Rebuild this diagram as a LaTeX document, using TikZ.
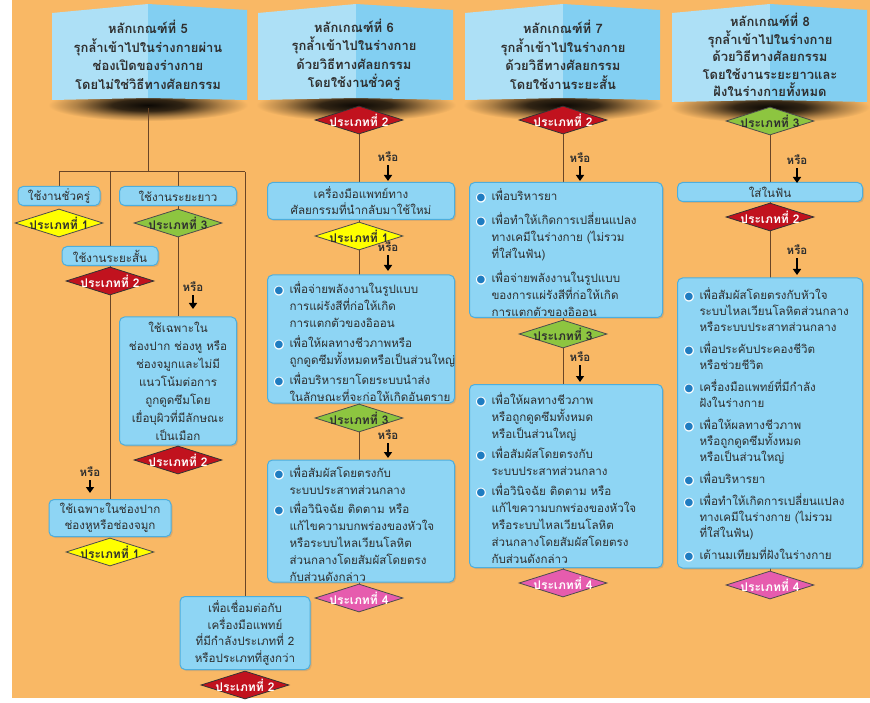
\documentclass[tikz,border=0pt]{standalone}
\usepackage{fontspec}
\setmainfont{Loma}[Script=Thai]
\newfontfamily\symfont{DejaVu Sans}
\usetikzlibrary{shapes.geometric,arrows.meta,shadows}
\definecolor{bgorange}{HTML}{F9B865}
\definecolor{boxfill}{HTML}{8ED5F4}
\definecolor{boxdraw}{HTML}{4DAEDD}
\definecolor{hdrL}{HTML}{ADE0F6}
\definecolor{hdrR}{HTML}{82CFF2}
\definecolor{txt}{HTML}{2F2F2F}
\definecolor{wire}{HTML}{6A4526}
\definecolor{dYel}{HTML}{FFFF00}
\definecolor{dRed}{HTML}{C1121E}
\definecolor{dGrn}{HTML}{8DC540}
\definecolor{dPnk}{HTML}{E65CAE}
\definecolor{bulblue}{HTML}{1F7CC1}
\pgfdeclarelayer{bg}
\pgfsetlayers{bg,main}
\pgfdeclareradialshading{hshadow}{\pgfpoint{0bp}{0bp}}{color(0bp)=(black!95!bgorange); color(9bp)=(black!80!bgorange); color(18bp)=(black!30!bgorange); color(25bp)=(bgorange); color(50bp)=(bgorange)}
\newcommand\bul{\raisebox{-0.8pt}{\makebox[0pt][l]{\makebox[13pt]{\symfont\fontsize{13}{13}\selectfont\color{white}●}}\makebox[13pt]{\raisebox{0.9pt}{\symfont\fontsize{10}{10}\selectfont\color{bulblue}●}}}}
\newcommand\bitem[1]{\par\hangindent=17pt\hangafter=1\noindent\hbox to 17pt{\bul\hss}#1\par}
\newcommand\bsep[1]{\vspace{#1pt}}
\newcommand\hdrshadow[3]{\shade[shading=hshadow] (#1,#2) ellipse [x radius=#3pt, y radius=16pt];}
\newcommand\hdr[4]{%
  \fill[hdrL] (#1,13) -- (#2,4) -- (#2,#4-2) -- (#1,#4) -- cycle;
  \fill[hdrR] (#2,4) -- (#3,10) -- (#3,#4) -- (#2,#4-2) -- cycle;}
\tikzset{
  box/.style={draw=boxdraw, fill=boxfill, line width=1pt, rounded corners=5pt, text=txt,
    font=\fontsize{11.6}{17}\selectfont, inner sep=0pt,
    drop shadow={opacity=0.25, shadow xshift=1.5pt, shadow yshift=-1.5pt}},
  cbox/.style={box, align=center},
  lbox/.style={box, align=left, inner xsep=5pt},
  dia/.style={shape=diamond, aspect=3.2, inner sep=0pt, minimum width=88pt, minimum height=28pt,
    line width=0.8pt, font=\bfseries\fontsize{12}{12}\selectfont,
    execute at begin node={\hbox to 0pt\bgroup\hss}, execute at end node={\hss\egroup}},
  dY/.style={dia, fill=dYel, draw=black!70, text=txt},
  dR/.style={dia, fill=dRed, draw=black!80, text=white},
  dG/.style={dia, fill=dGrn, draw=black!70, text=txt},
  dP/.style={dia, fill=dPnk, draw=black!70, text=white},
  hdrtext/.style={align=center, text=txt, font=\bfseries\fontsize{13}{18.5}\selectfont},
  orl/.style={text=txt, inner sep=0pt, font=\bfseries\fontsize{11.5}{11.5}\selectfont},
  arr/.style={line width=2pt, black, -{Triangle[length=6pt,width=8pt]}, shorten <=3pt},
  wire/.style={draw=wire, line width=1pt}
}
\begin{document}
\begin{tikzpicture}[x=1pt,y=-1pt]
\useasboundingbox (0,0) rectangle (870,703);
\begin{pgfonlayer}{bg}
\fill[white] (0,0) rectangle (870,703);
\fill[bgorange] (12,0) rectangle (870,698);
\hdrshadow{148}{105}{100}
\hdrshadow{356}{105}{100}
\hdrshadow{563}{105}{100}
\hdrshadow{770}{107}{100}
\hdr{52}{148}{247}{100}
\hdr{258}{356}{453}{100}
\hdr{465}{563}{660}{100}
\hdr{672}{770}{867}{102}
\end{pgfonlayer}

% headers
\node[hdrtext] (h5) at (148,55) {หลักเกณฑ์ที่ 5\\รุกล้ำเข้าไปในร่างกายผ่าน\\ช่องเปิดของร่างกาย\\โดยไม่ใช่วิธีทางศัลยกรรม};
\node[hdrtext] (h6) at (354,55) {หลักเกณฑ์ที่ 6\\รุกล้ำเข้าไปในร่างกาย\\ด้วยวิธีทางศัลยกรรม\\โดยใช้งานชั่วครู่};
\node[hdrtext] (h7) at (563,55) {หลักเกณฑ์ที่ 7\\รุกล้ำเข้าไปในร่างกาย\\ด้วยวิธีทางศัลยกรรม\\โดยใช้งานระยะสั้น};
\node[hdrtext, font=\bfseries\fontsize{13}{17.5}\selectfont] (h8) at (770,55) {หลักเกณฑ์ที่ 8\\รุกล้ำเข้าไปในร่างกาย\\ด้วยวิธีทางศัลยกรรม\\โดยใช้งานระยะยาวและ\\ฝังในร่างกายทั้งหมด};

% column 5 junctions
\coordinate (h5b) at (148,108);
\coordinate (j0) at (148,172);
\coordinate (j1) at (59,172);
\coordinate (j2) at (110,172);
\coordinate (j3) at (178,172);
\coordinate (j4) at (245,172);

% column 5 boxes
\node[cbox, minimum width=82pt, minimum height=19pt] (b51) at (59,196) {ใช้งานชั่วครู่};
\node[cbox, minimum width=117pt, minimum height=19pt] (b52) at (178,196) {ใช้งานระยะยาว};
\node[cbox, minimum width=96pt, minimum height=19pt] (b53) at (110,256) {ใช้งานระยะสั้น};
\node[cbox, minimum width=117pt, minimum height=128pt, font=\fontsize{11.6}{18}\selectfont] (b54) at (178,381) {ใช้เฉพาะใน\\ช่องปาก ช่องหู หรือ\\ช่องจมูกและไม่มี\\แนวโน้มต่อการ\\ถูกดูดซึมโดย\\เยื่อบุผิวที่มีลักษณะ\\เป็นเมือก};
\node[cbox, minimum width=122pt, minimum height=37pt, font=\fontsize{11.6}{15.5}\selectfont] (b55) at (110,518) {ใช้เฉพาะในช่องปาก\\ช่องหูหรือช่องจมูก};
\node[cbox, minimum width=130pt, minimum height=73pt, font=\fontsize{11.6}{16.5}\selectfont] (b56) at (245,633) {เพื่อเชื่อมต่อกับ\\เครื่องมือแพทย์\\ที่มีกำลังประเภทที่ 2\\หรือประเภทที่สูงกว่า};

% column 6 boxes
\node[cbox, minimum width=187pt, minimum height=37pt, font=\fontsize{11.6}{16}\selectfont] (b61) at (361,201) {เครื่องมือแพทย์ทาง\\ศัลยกรรมที่นำกลับมาใช้ใหม่};
\node[lbox, minimum width=187pt, minimum height=128pt, text width=177pt] (b62) at (361,339) {%
\bitem{เพื่อจ่ายพลังงานในรูปแบบ\newline การแผ่รังสีที่ก่อให้เกิด\newline การแตกตัวของอิออน}\bsep{3}%
\bitem{เพื่อให้ผลทางชีวภาพหรือ\newline ถูกดูดซึมทั้งหมดหรือเป็นส่วนใหญ่}\bsep{3}%
\bitem{เพื่อบริหารยาโดยระบบนำส่ง\newline ในลักษณะที่จะก่อให้เกิดอันตราย}};
\node[lbox, minimum width=187pt, minimum height=122pt, text width=177pt] (b63) at (361,521) {%
\bitem{เพื่อสัมผัสโดยตรงกับ\newline ระบบประสาทส่วนกลาง}\bsep{2}%
\bitem{เพื่อวินิจฉัย~ติดตาม~หรือ\newline แก้ไขความบกพร่องของหัวใจ\newline หรือระบบไหลเวียนโลหิต\newline ส่วนกลางโดยสัมผัสโดยตรง\newline กับส่วนดังกล่าว}};

% column 7 boxes
\node[lbox, minimum width=193pt, minimum height=135pt, text width=183pt] (b71) at (566,250) {%
\bitem{เพื่อบริหารยา}\bsep{7}%
\bitem{เพื่อทำให้เกิดการเปลี่ยนแปลง\newline ทางเคมีในร่างกาย~(ไม่รวม\newline ที่ใส่ในฟัน)}\bsep{7}%
\bitem{เพื่อจ่ายพลังงานในรูปแบบ\newline ของการแผ่รังสีที่ก่อให้เกิด\newline การแตกตัวของอิออน}};
\node[lbox, minimum width=193pt, minimum height=183pt, text width=183pt] (b72) at (566,476) {%
\bitem{เพื่อให้ผลทางชีวภาพ\newline หรือถูกดูดซึมทั้งหมด\newline หรือเป็นส่วนใหญ่}\bsep{3}%
\bitem{เพื่อสัมผัสโดยตรงกับ\newline ระบบประสาทส่วนกลาง}\bsep{3}%
\bitem{เพื่อวินิจฉัย~ติดตาม~หรือ\newline แก้ไขความบกพร่องของหัวใจ\newline หรือระบบไหลเวียนโลหิต\newline ส่วนกลางโดยสัมผัสโดยตรง\newline กับส่วนดังกล่าว}};

% column 8 boxes
\node[cbox, minimum width=185pt, minimum height=19pt] (b81) at (770,192) {ใส่ในฟัน};
\node[lbox, minimum width=185pt, minimum height=290pt, text width=175pt, font=\fontsize{11.6}{16}\selectfont] (b82) at (770,423) {%
\bitem{เพื่อสัมผัสโดยตรงกับหัวใจ\newline ระบบไหลเวียนโลหิตส่วนกลาง\newline หรือระบบประสาทส่วนกลาง}\bsep{6}%
\bitem{เพื่อประคับประคองชีวิต\newline หรือช่วยชีวิต}\bsep{6}%
\bitem{เครื่องมือแพทย์ที่มีกำลัง\newline ฝังในร่างกาย}\bsep{6}%
\bitem{เพื่อให้ผลทางชีวภาพ\newline หรือถูกดูดซึมทั้งหมด\newline หรือเป็นส่วนใหญ่}\bsep{6}%
\bitem{เพื่อบริหารยา}\bsep{6}%
\bitem{เพื่อทำให้เกิดการเปลี่ยนแปลง\newline ทางเคมีในร่างกาย~(ไม่รวม\newline ที่ใส่ในฟัน)}\bsep{6}%
\bitem{เต้านมเทียมที่ฝังในร่างกาย}};

% diamonds
\node[dY] (d51) at (59,223) {ประเภทที่ 1};
\node[dG] (d52) at (178,223) {ประเภทที่ 3};
\node[dR] (d53) at (110,281) {ประเภทที่ 2};
\node[dR] (d54) at (178,460) {ประเภทที่ 2};
\node[dY] (d55) at (110,552) {ประเภทที่ 1};
\node[dR] (d56) at (245,685) {ประเภทที่ 2};
\node[dR] (d61) at (359,120) {ประเภทที่ 2};
\node[dY] (d62) at (359,236) {ประเภทที่ 1};
\node[dG] (d63) at (359,418) {ประเภทที่ 3};
\node[dP] (d64) at (359,598) {ประเภทที่ 4};
\node[dR] (d71) at (563,120) {ประเภทที่ 2};
\node[dG] (d72) at (563,334) {ประเภทที่ 3};
\node[dP] (d73) at (563,583) {ประเภทที่ 4};
\node[dG] (d81) at (770,121) {ประเภทที่ 3};
\node[dR] (d82) at (770,217) {ประเภทที่ 2};
\node[dP] (d83) at (770,585) {ประเภทที่ 4};

% "or" labels and arrows
\node[orl] (o1) at (90,472) {หรือ};
\coordinate (a1) at (90,493);
\node[orl] (o2) at (193,287) {หรือ};
\coordinate (a2) at (193,309);
\node[orl] (o3) at (388,157) {หรือ};
\coordinate (a3) at (388,181);
\node[orl] (o4) at (388,247) {หรือ};
\coordinate (a4) at (388,271);
\node[orl] (o5) at (388,435) {หรือ};
\coordinate (a5) at (388,458);
\node[orl] (o6) at (580,158) {หรือ};
\coordinate (a6) at (580,181);
\node[orl] (o7) at (580,357) {หรือ};
\coordinate (a7) at (580,382);
\node[orl] (o8) at (797,160) {หรือ};
\coordinate (a8) at (797,183);
\node[orl] (o9) at (797,250) {หรือ};
\coordinate (a9) at (797,275);
\foreach \i in {1,...,9} {\draw[arr] (o\i) -- (a\i);}

% connectors
\begin{pgfonlayer}{bg}
\draw[wire] (h5b) -- (j0);
\draw[wire] (j1) -- (j4);
\draw[wire] (j1) -- (b51);
\draw[wire] (j2) -- (b55);
\draw[wire] (j3) -- (b54);
\draw[wire] (j4) -- (b56);
\draw[wire] (d61) -- (d64);
\draw[wire] (d71) -- (d73);
\draw[wire] (d81) -- (d83);
\end{pgfonlayer}
\end{tikzpicture}
\end{document}
